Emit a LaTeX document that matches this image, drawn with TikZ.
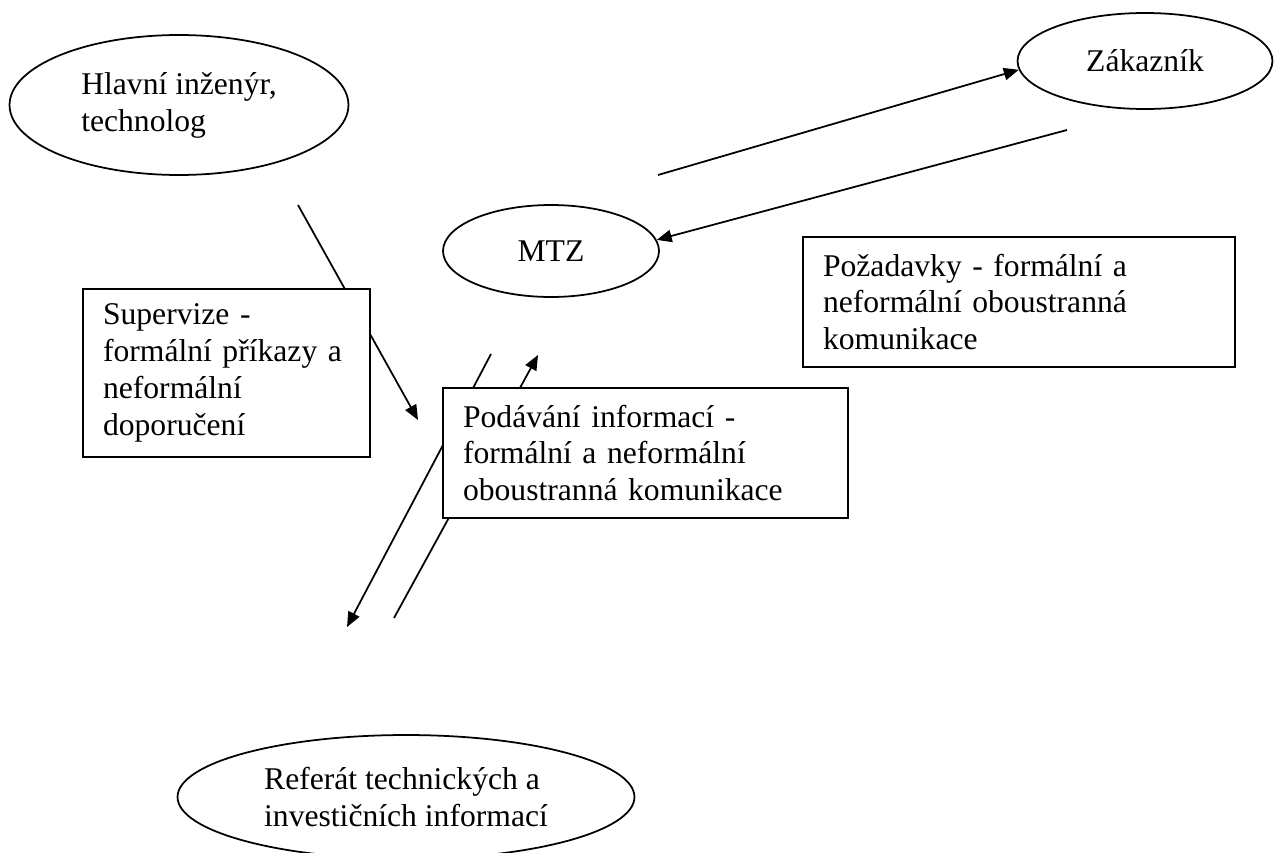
\documentclass[tikz,border=0pt]{standalone}
\usepackage{fontspec}
\setmainfont{Liberation Serif}
\usetikzlibrary{shapes.geometric,arrows.meta}
\begin{document}
\begin{tikzpicture}[x=0.02cm,y=-0.02cm,line width=1pt,
    >={Triangle[length=8.5pt,width=7pt]},
    oval/.style={draw,ellipse,inner sep=0pt,align=left,font=\fontsize{18}{21}\selectfont},
    infobox/.style={draw,fill=white,rectangle,inner xsep=0.4cm,inner ysep=0pt,align=left,font=\fontsize{18}{21}\selectfont}]
                    \useasboundingbox (0,0) rectangle (1274,852);

                    \node[oval,minimum width=6.78cm,minimum height=2.8cm] (hlavni) at (179,105) {Hlavní inženýr,\\technolog};
                    \node[oval,minimum width=5.1cm,minimum height=1.92cm] (zak) at (1145,61) {Zákazník};
                    \node[oval,minimum width=4.32cm,minimum height=1.84cm] (mtz) at (551,251) {MTZ};
                    \node[oval,minimum width=9.14cm,minimum height=2.48cm] (referat) at (406,797) {Referát technických a\\investičních informací};

                    \coordinate (supstart) at (298,205);
                    \coordinate (supend) at (418,420);
                    \coordinate (zakout) at (658,175);
                    \coordinate (zakin) at (1067,130);
                    \coordinate (reftop) at (491,354);
                    \coordinate (refend) at (347,627);
                    \coordinate (reflow) at (394,618);
                    \coordinate (refup) at (538,355);

                    \draw[->] (supstart) -- (supend);
                    \draw[->] (zakout) -- (zak.184);
                    \draw[->] (zakin) -- (mtz.6);
                    \draw[->] (reftop) -- (refend);
                    \draw[->] (reflow) -- (refup);

                    \node[infobox,text width=4.94cm,minimum height=3.36cm] (supervize) at (226.5,373) {Supervize -\\formální příkazy a\\neformální\\doporučení};
                    \node[infobox,text width=7.3cm,minimum height=2.6cm] (podavani) at (645.5,453) {Podávání informací -\\formální a neformální\\oboustranná komunikace};
                    \node[infobox,text width=7.84cm,minimum height=2.6cm] (pozadavky) at (1019,302) {Požadavky - formální a\\neformální oboustranná\\komunikace};
                \end{tikzpicture}
\end{document}
